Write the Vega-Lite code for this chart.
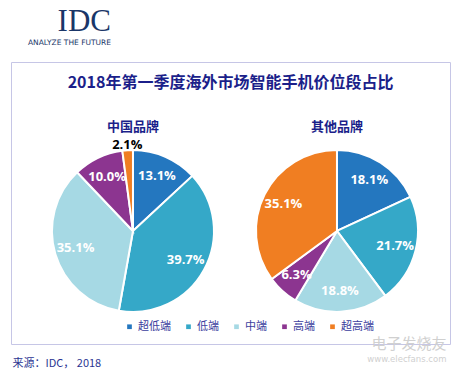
{
  "$schema": "https://vega.github.io/schema/vega-lite/v6.json",
  "background": "white",
  "padding": {"left": 10, "top": 6, "right": 12, "bottom": 5},
  "datasets": {
    "share": [
      {"brand": "中国品牌", "seg": "超低端", "k": 1, "share": 0.131},
      {"brand": "中国品牌", "seg": "低端", "k": 2, "share": 0.397},
      {"brand": "中国品牌", "seg": "中端", "k": 3, "share": 0.351},
      {"brand": "中国品牌", "seg": "高端", "k": 4, "share": 0.100},
      {"brand": "中国品牌", "seg": "超高端", "k": 5, "share": 0.021},
      {"brand": "其他品牌", "seg": "超低端", "k": 1, "share": 0.181},
      {"brand": "其他品牌", "seg": "低端", "k": 2, "share": 0.217},
      {"brand": "其他品牌", "seg": "中端", "k": 3, "share": 0.188},
      {"brand": "其他品牌", "seg": "高端", "k": 4, "share": 0.063},
      {"brand": "其他品牌", "seg": "超高端", "k": 5, "share": 0.351}
    ]
  },
  "config": {
    "view": {"stroke": "#C6C6E6", "strokeWidth": 1},
    "font": "Noto Sans CJK SC",
    "concat": {"spacing": 0}
  },
  "title": {
    "text": "IDC",
    "subtitle": "ANALYZE THE FUTURE",
    "anchor": "start",
    "align": "right",
    "dx": 100,
    "frame": "group",
    "font": "Liberation Serif",
    "fontSize": 31,
    "fontWeight": "normal",
    "color": "#1A3668",
    "subtitleFont": "DejaVu Sans",
    "subtitleFontSize": 7.5,
    "subtitleColor": "#1A3668",
    "subtitlePadding": 1,
    "offset": 14
  },
  "vconcat": [
    {
      "title": {
        "text": "电子发烧友",
        "subtitle": "www.elecfans.com",
        "orient": "bottom",
        "anchor": "end",
        "dx": -4,
        "offset": -32,
        "font": "Noto Sans CJK SC",
        "fontSize": 15,
        "fontWeight": "normal",
        "color": "#D0D0D0",
        "subtitleFont": "DejaVu Sans",
        "subtitleFontSize": 8.5,
        "subtitleColor": "#D0D0D0",
        "subtitlePadding": 3
      },
      "vconcat": [
        {
          "title": {
            "text": "来源：IDC， 2018",
            "orient": "bottom",
            "anchor": "start",
            "dx": 2,
            "offset": 13,
            "font": "Noto Sans CJK SC",
            "fontSize": 11,
            "fontWeight": "normal",
            "color": "#2B3592"
          },
          "vconcat": [
            {
              "width": 439,
              "height": 282,
              "data": {"name": "share"},
              "title": {
                "text": "2018年第一季度海外市场智能手机价位段占比",
                "offset": -29,
                "anchor": "middle",
                "font": "Noto Sans CJK SC",
                "fontSize": 16,
                "fontWeight": "bold",
                "color": "#1B1F8A"
              },
              "encoding": {
                "x": {
                  "field": "brand",
                  "type": "nominal",
                  "axis": null,
                  "scale": {"type": "point", "domain": ["中国品牌", "其他品牌"], "padding": 0.576, "align": 0.519}
                },
                "y": {
                  "datum": "pie",
                  "type": "nominal",
                  "axis": null,
                  "scale": {"type": "point", "domain": ["sub", "pie"], "padding": 0.856, "align": 0.365}
                }
              },
              "layer": [
                {
                  "transform": [{"filter": "datum.k === 1"}],
                  "mark": {"type": "text", "font": "Noto Sans CJK SC", "fontSize": 13, "fontWeight": "bold", "color": "#1B1F8A"},
                  "encoding": {
                    "y": {"datum": "sub", "type": "nominal"},
                    "text": {"field": "brand", "type": "nominal"}
                  }
                },
                {
                  "transform": [{"filter": "datum.brand === '中国品牌'"}],
                  "encoding": {
                    "theta": {"field": "share", "type": "quantitative", "stack": "normalize", "scale": {"domain": [0, 1]}},
                    "order": {"field": "k", "type": "quantitative"}
                  },
                  "layer": [
                    {
                      "mark": {"type": "arc", "outerRadius": 81, "stroke": "white", "strokeWidth": 2},
                      "encoding": {
                        "color": {
                          "field": "seg",
                          "type": "nominal",
                          "scale": {"domain": ["超低端", "低端", "中端", "高端", "超高端"], "range": ["#2477BF", "#35A8C8", "#A6D9E4", "#8C3590", "#F07E22"]},
                          "legend": {"orient": "none", "legendX": 113, "legendY": 259, "direction": "horizontal", "title": null, "symbolType": "square", "symbolSize": 22, "symbolStrokeWidth": 0, "labelFontSize": 11, "labelColor": "#3B3E9E", "labelFont": "Noto Sans CJK SC", "columnPadding": 12, "labelOffset": 3}
                        }
                      }
                    },
                    {
                      "mark": {"type": "text", "radius": 60, "font": "Open Sans", "fontSize": 13, "fontWeight": "bold", "color": "white"},
                      "encoding": {
                        "text": {"condition": {"test": "datum.share >= 0.05", "field": "share", "type": "quantitative", "format": ".1%"}, "value": ""}
                      }
                    },
                    {
                      "mark": {"type": "text", "radius": 86, "font": "Open Sans", "fontSize": 13, "fontWeight": "bold", "color": "black"},
                      "encoding": {
                        "text": {"condition": {"test": "datum.share < 0.05", "field": "share", "type": "quantitative", "format": ".1%"}, "value": ""}
                      }
                    }
                  ]
                },
                {
                  "transform": [{"filter": "datum.brand === '其他品牌'"}],
                  "encoding": {
                    "theta": {"field": "share", "type": "quantitative", "stack": "normalize", "scale": {"domain": [0, 1]}},
                    "order": {"field": "k", "type": "quantitative"}
                  },
                  "layer": [
                    {
                      "mark": {"type": "arc", "outerRadius": 81, "stroke": "white", "strokeWidth": 2},
                      "encoding": {
                        "color": {
                          "field": "seg",
                          "type": "nominal",
                          "scale": {"domain": ["超低端", "低端", "中端", "高端", "超高端"], "range": ["#2477BF", "#35A8C8", "#A6D9E4", "#8C3590", "#F07E22"]},
                          "legend": {"orient": "none", "legendX": 113, "legendY": 259, "direction": "horizontal", "title": null, "symbolType": "square", "symbolSize": 22, "symbolStrokeWidth": 0, "labelFontSize": 11, "labelColor": "#3B3E9E", "labelFont": "Noto Sans CJK SC", "columnPadding": 12, "labelOffset": 3}
                        }
                      }
                    },
                    {
                      "mark": {"type": "text", "radius": 60, "font": "Open Sans", "fontSize": 13, "fontWeight": "bold", "color": "white"},
                      "encoding": {
                        "text": {"condition": {"test": "datum.share >= 0.05", "field": "share", "type": "quantitative", "format": ".1%"}, "value": ""}
                      }
                    },
                    {
                      "mark": {"type": "text", "radius": 86, "font": "Open Sans", "fontSize": 13, "fontWeight": "bold", "color": "black"},
                      "encoding": {
                        "text": {"condition": {"test": "datum.share < 0.05", "field": "share", "type": "quantitative", "format": ".1%"}, "value": ""}
                      }
                    }
                  ]
                }
              ]
            }
          ]
        }
      ]
    }
  ]
}
